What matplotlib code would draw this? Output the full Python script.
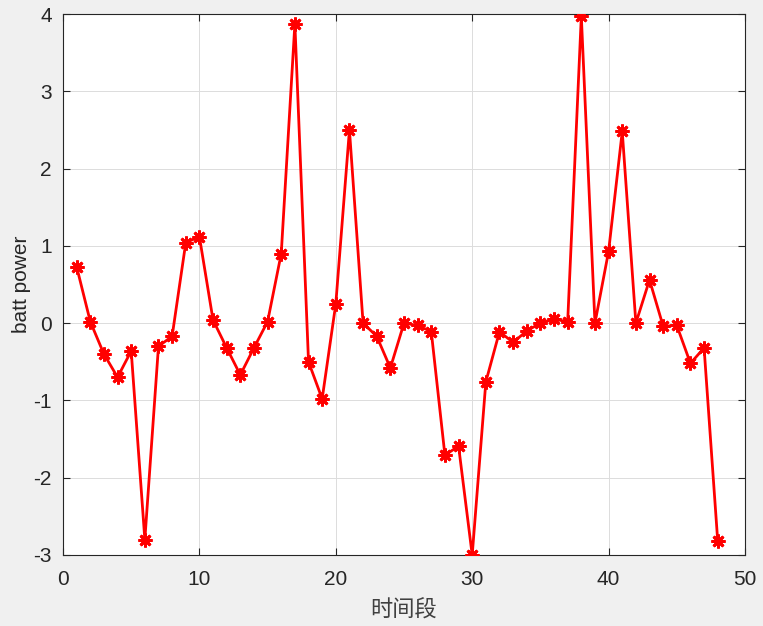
import matplotlib
matplotlib.use("Agg")
import matplotlib.pyplot as plt
import numpy as np

periods = list(range(1, 49))
batt_power = [0.73, 0.02, -0.40, -0.70, -0.36, -2.80, -0.30, -0.17, 1.04, 1.12,
              0.04, -0.32, -0.67, -0.32, 0.02, 0.90, 3.87, -0.50, -0.98, 0.25,
              2.50, 0.00, -0.17, -0.58, 0.00, -0.03, -0.11, -1.71, -1.59, -3.00,
              -0.76, -0.11, -0.25, -0.10, 0.00, 0.05, 0.02, 3.97, 0.00, 0.93,
              2.48, 0.00, 0.56, -0.04, -0.03, -0.52, -0.32, -2.82]
x_ticks = [0, 10, 20, 30, 40, 50]
y_ticks = [-3, -2, -1, 0, 1, 2, 3, 4]

plt.rcParams['font.family'] = ['Liberation Sans', 'Noto Sans CJK SC', 'DejaVu Sans']
plt.rcParams['axes.unicode_minus'] = False

fig = plt.figure(figsize=(7.63, 6.26), dpi=100, facecolor='#f0f0f0')
ax = fig.add_axes([63/763, 1-555/626, (745-63)/763, (555-14)/626])
ax.set_facecolor('white')

ax.plot(periods, batt_power, color='red', linewidth=2,
        marker=(8, 2, 0), markersize=10, markeredgewidth=2,
        markeredgecolor='red', markerfacecolor='red', zorder=3)

ax.set_xlim(0, 50)
ax.set_ylim(-3, 4)
ax.set_xticks(x_ticks)
ax.set_yticks(y_ticks)
ax.grid(True, color='#dcdcdc', linewidth=0.7)
ax.set_axisbelow(True)
ax.tick_params(direction='in', length=5, width=0.8, colors='#262626',
               labelsize=15, top=True, right=True, labelcolor='#262626')
ax.tick_params(axis='x', pad=11)
ax.tick_params(axis='y', pad=8)
for s in ax.spines.values():
    s.set_color('#262626')
    s.set_linewidth(0.8)

ax.set_xlabel('时间段', fontsize=16, color='#404040',
              family=['Noto Sans CJK SC', 'DejaVu Sans'], labelpad=7)
ax.set_ylabel('batt power', fontsize=15, color='#262626', labelpad=2)

fig.savefig('out.png', dpi=100, facecolor=fig.get_facecolor())
